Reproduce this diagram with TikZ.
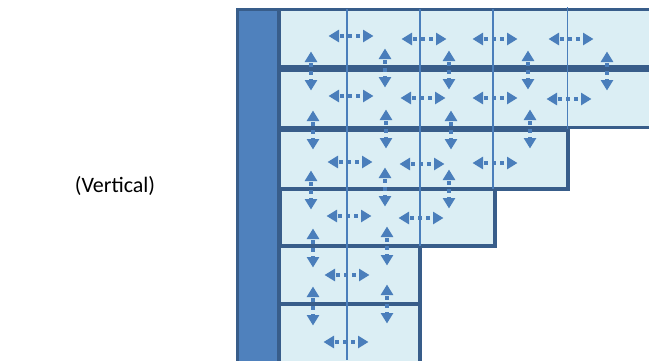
\documentclass[tikz,border=0pt]{standalone}
\usepackage{fontspec}
\setmainfont{Carlito}
\usetikzlibrary{arrows.meta}
\definecolor{cellfill}{HTML}{DBEEF4}
\definecolor{edgeblue}{HTML}{385D8A}
\definecolor{colfill}{HTML}{4F81BD}
\definecolor{arrblue}{HTML}{4A7EBB}
\begin{document}
\begin{tikzpicture}[x=1pt,y=-1pt,
  cell/.style={fill=cellfill,draw=edgeblue,line width=3.5pt},
  column/.style={fill=colfill,draw=edgeblue,line width=3pt},
  gridline/.style={draw=arrblue,line width=1.5pt},
  darrow/.style={draw=arrblue,line width=3.6pt,dash pattern=on 4pt off 4pt,dash phase=6pt,
    {Triangle[width=12pt,length=10.5pt]}-{Triangle[width=12pt,length=10.5pt]}}]
\useasboundingbox (0,0) rectangle (649,360);
\clip (0,0) rectangle (649,360);
% text
\node[font=\fontsize{22}{26}\selectfont, inner sep=0pt] (label) at (115,186) {(Vertical)};
% left column
\draw[column] (237.5,9.5) rectangle (278.5,370);
% rows
\draw[cell] (279,9.5) rectangle (660,67);
\draw[cell] (279,70) rectangle (660,127.5);
\draw[cell] (279,130.5) rectangle (568,189);
\draw[cell] (280,189) rectangle (495,246);
\draw[cell] (279,246) rectangle (420,304);
\draw[cell] (279,304) rectangle (420,370);
% thin grid lines
\draw[gridline] (347,9) -- (347,360);
\draw[gridline] (420,9) -- (420,246);
\draw[gridline] (493,9) -- (493,189);
\draw[gridline] (567.5,7) -- (567.5,129);
% horizontal arrows
\foreach \x/\y in {351/36,424/39,495/39,571/39,
                   351/96,423/98,495/98,569/99,
                   350/162,422/164,495/163,
                   349/216,421/218,
                   347/275,
                   346/342}
  \draw[darrow] ({\x-22.5},\y) -- ({\x+22.5},\y);
% vertical arrows
\foreach \x/\y in {311/71,385/68,449/70,528/70,607/71,
                   313/130,386/129,451/130,530/129,
                   311/190,385/187,449/189,
                   313/248,387/246,
                   313/306,387/304}
  \draw[darrow] (\x,{\y-19.5}) -- (\x,{\y+19.5});
\end{tikzpicture}
\end{document}
